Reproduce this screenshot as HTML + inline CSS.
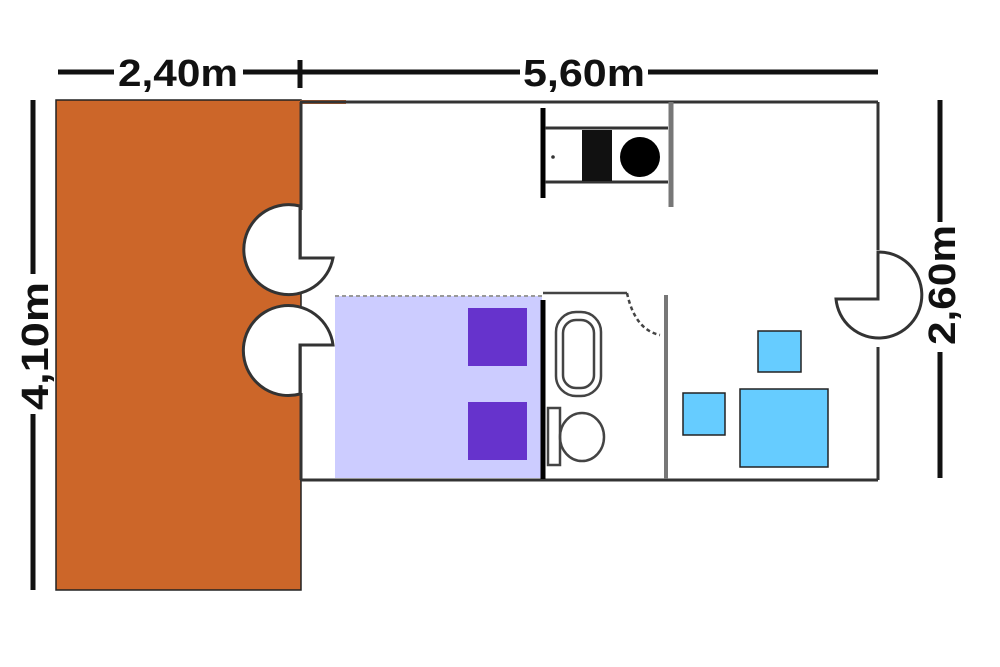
<!DOCTYPE html>
<html><head><meta charset="utf-8"><style>
html,body{margin:0;padding:0;background:#fff;width:1000px;height:667px;overflow:hidden}
text{font-family:"Liberation Sans",Arial,sans-serif;font-weight:bold;font-size:38px;fill:#111}
</style></head><body>
<svg width="1000" height="667" viewBox="0 0 1000 667" xmlns="http://www.w3.org/2000/svg">
<!-- dimensions -->
<g stroke="#111" stroke-width="5">
<line x1="58" y1="72" x2="114" y2="72"/>
<line x1="243" y1="72" x2="520" y2="72"/>
<line x1="648" y1="72" x2="878" y2="72"/>
<line x1="300" y1="60" x2="300" y2="88"/>
<line x1="33" y1="100" x2="33" y2="274"/>
<line x1="33" y1="414" x2="33" y2="590"/>
<line x1="940" y1="100" x2="940" y2="222"/>
<line x1="940" y1="352" x2="940" y2="478"/>
</g>
<text x="118" y="86" textLength="120" lengthAdjust="spacingAndGlyphs">2,40m</text>
<text x="523" y="86" textLength="122" lengthAdjust="spacingAndGlyphs">5,60m</text>
<text transform="translate(48,410) rotate(-90)" textLength="128" lengthAdjust="spacingAndGlyphs">4,10m</text>
<text transform="translate(955,345) rotate(-90)" textLength="120" lengthAdjust="spacingAndGlyphs">2,60m</text>
<!-- orange terrace -->
<rect x="56" y="100" width="245" height="490" fill="#cc6629" stroke="#222" stroke-width="1.5"/>
<rect x="300" y="100" width="46" height="4" fill="#cc6629"/>
<!-- building walls -->
<g stroke="#333" stroke-width="3" fill="none">
<line x1="300" y1="102" x2="878" y2="102"/>
<line x1="878" y1="102" x2="878" y2="250"/>
<line x1="878" y1="347" x2="878" y2="480"/>
<line x1="300" y1="480" x2="878" y2="480"/>
<line x1="301" y1="102" x2="301" y2="210"/>
<line x1="301" y1="393" x2="301" y2="480"/>
</g>
<!-- doors -->
<g stroke="#333" stroke-width="3" fill="#fff">
<path d="M300,206 A45,45 0 1 0 333,258 L300,258 Z"/>
<path d="M333,345 A45,45 0 1 0 300,394 L300,345 Z"/>
<path d="M836,299 A43,43 0 1 0 878,252 L878,299 Z"/>
</g>
<!-- kitchen -->
<line x1="543" y1="108" x2="543" y2="198" stroke="#000" stroke-width="5"/>
<g stroke="#333" stroke-width="3">
<line x1="545" y1="128" x2="668" y2="128"/>
<line x1="545" y1="182" x2="668" y2="182"/>
</g>
<line x1="671" y1="102" x2="671" y2="207" stroke="#777" stroke-width="5"/>
<rect x="582" y="130" width="30" height="51" fill="#111"/>
<circle cx="640" cy="157" r="20" fill="#000"/>
<circle cx="553" cy="157" r="1.8" fill="#333"/>
<!-- bed area -->
<rect x="335" y="296" width="207" height="182" fill="#ccccff"/>
<line x1="335" y1="296" x2="542" y2="296" stroke="#999" stroke-width="2" stroke-dasharray="4,3"/>
<rect x="468" y="308" width="59" height="58" fill="#6633cc"/>
<rect x="468" y="402" width="59" height="58" fill="#6633cc"/>
<!-- bathroom -->
<line x1="543" y1="300" x2="543" y2="479" stroke="#000" stroke-width="5"/>
<g stroke="#444" stroke-width="2.5" fill="none">
<path d="M543,293 L627,293"/>
<path d="M627,293 Q635,330 660,335" stroke-dasharray="4,3"/>
<rect x="556" y="312" width="45" height="84" rx="20"/>
<rect x="563" y="320" width="31" height="68" rx="13"/>
<rect x="548" y="408" width="12" height="57"/>
<ellipse cx="582" cy="437" rx="22" ry="24"/>
</g>
<line x1="666" y1="295" x2="666" y2="479" stroke="#777" stroke-width="4"/>
<!-- living furniture -->
<g fill="#66ccff" stroke="#222" stroke-width="1.5">
<rect x="758" y="331" width="43" height="41"/>
<rect x="683" y="393" width="42" height="42"/>
<rect x="740" y="389" width="88" height="78"/>
</g>
</svg>
</body></html>
